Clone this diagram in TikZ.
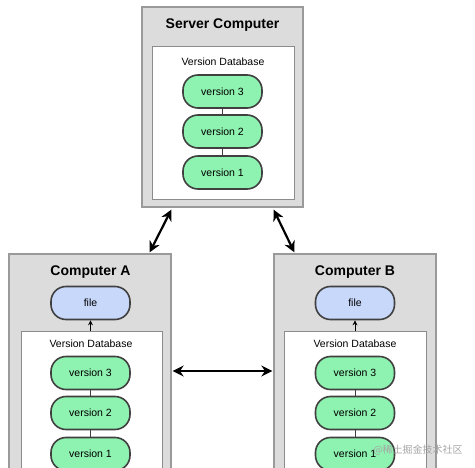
\documentclass[tikz,border=0pt]{standalone}
\usepackage{fontspec}
\setmainfont{Liberation Sans}
\newfontfamily\cjk{Noto Sans CJK SC}
\usetikzlibrary{arrows.meta,calc}
\definecolor{outergray}{HTML}{DCDCDC}
\definecolor{outerline}{HTML}{9A9A9A}
\definecolor{innerline}{HTML}{8C8C8C}
\definecolor{vgreen}{HTML}{8EF2B0}
\definecolor{fblue}{HTML}{C8D8FA}
\definecolor{pillline}{HTML}{404040}
\tikzset{
  outerbox/.style={draw=outerline, fill=outergray, line width=1.3pt, inner sep=0pt},
  innerbox/.style={draw=innerline, fill=white, line width=0.9pt, inner sep=0pt},
  pill/.style={draw=pillline, line width=1.6pt, rounded corners=15pt, minimum width=79pt, minimum height=33pt, inner sep=0pt, font=\fontsize{10.5}{12}\selectfont},
  vpill/.style={pill, fill=vgreen},
  fpill/.style={pill, fill=fblue},
  title/.style={font=\fontsize{14}{16}\bfseries\selectfont, inner sep=0pt},
  dbtext/.style={font=\fontsize{10.5}{12}\selectfont, inner sep=0pt},
  link/.style={draw=pillline, line width=0.9pt},
  sync/.style={line width=2.2pt, {Stealth[length=11pt,width=11pt]}-{Stealth[length=11pt,width=11pt]}},
  up/.style={line width=0.9pt, -{Stealth[length=5pt,width=5pt]}}
}
\begin{document}
\begin{tikzpicture}[x=1pt,y=-1pt]
\useasboundingbox (0,0) rectangle (475,468);
\clip (0,0) rectangle (475,468);
% Server
\node[outerbox, minimum width=161pt, minimum height=200pt] (server) at (222.5,107) {};
\node[innerbox, minimum width=142pt, minimum height=153pt] (sdb) at (223,122.5) {};
\node[title] (stitle) at (222.5,25) {Server Computer};
\node[dbtext] (sdbt) at (223,62) {Version Database};
\node[vpill] (s3) at (222.5,91.5) {version 3};
\node[vpill] (s2) at (222.5,131.5) {version 2};
\node[vpill] (s1) at (222.5,172.5) {version 1};
\draw[link] (s3) -- (s2);
\draw[link] (s2) -- (s1);
% Computer A
\node[outerbox, minimum width=162pt, minimum height=240pt] (ca) at (90,374) {};
\node[innerbox, minimum width=141pt, minimum height=160pt] (adb) at (91.5,411) {};
\node[title] (atitle) at (90.5,272) {Computer A};
\node[fpill] (afile) at (90.5,303) {file};
\node[dbtext] (adbt) at (91,344) {Version Database};
\node[vpill] (a3) at (90.5,373) {version 3};
\node[vpill] (a2) at (90.5,413) {version 2};
\node[vpill] (a1) at (90.5,454) {version 1};
\draw[link] (a3) -- (a2);
\draw[link] (a2) -- (a1);
\draw[up] (afile.south |- adb.north) -- (afile.south);
% Computer B
\node[outerbox, minimum width=162pt, minimum height=240pt] (cb) at (355,374) {};
\node[innerbox, minimum width=142pt, minimum height=160pt] (bdb) at (355,411) {};
\node[title] (btitle) at (355,272) {Computer B};
\node[fpill] (bfile) at (355,303) {file};
\node[dbtext] (bdbt) at (355,344) {Version Database};
\node[vpill] (b3) at (355,373) {version 3};
\node[vpill] (b2) at (355,413) {version 2};
\node[vpill] (b1) at (355,454) {version 1};
\draw[link] (b3) -- (b2);
\draw[link] (b2) -- (b1);
\draw[up] (bfile.south |- bdb.north) -- (bfile.south);
% sync arrows
\coordinate (sA) at ($(server.south west)+(30,2)$);
\coordinate (aS) at ($(ca.north east)+(-22,-1)$);
\coordinate (sB) at ($(server.south east)+(-30,2)$);
\coordinate (bS) at ($(cb.north west)+(21,-1)$);
\draw[sync] (sA) -- (aS);
\draw[sync] (sB) -- (bS);
\coordinate (aB) at ($(ca.east |- a3)+(1,-2)$);
\coordinate (bA) at ($(cb.west |- b3)+(-1,-2)$);
\draw[sync] (aB) -- (bA);
% watermark
\node[font=\cjk\fontsize{10}{12}\selectfont, text=black!35, inner sep=0pt] (wm) at (418,450) {@稀土掘金技术社区};
\end{tikzpicture}
\end{document}
